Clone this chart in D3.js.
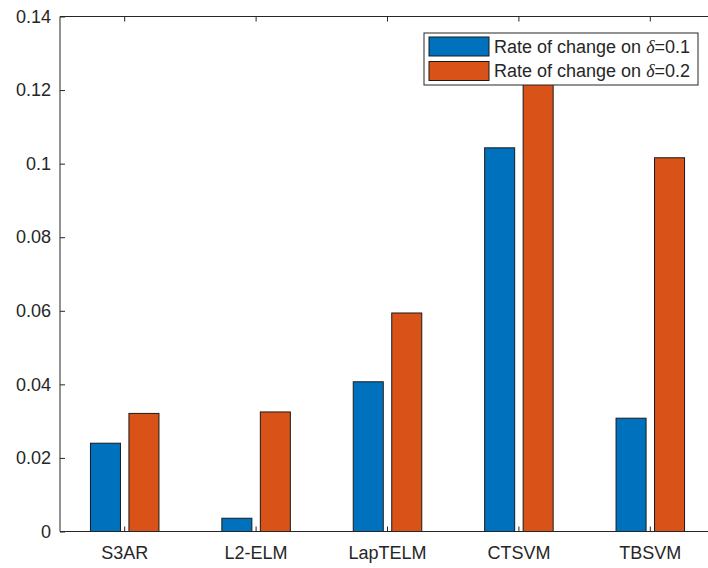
<!DOCTYPE html>
<html>
<head>
<meta charset="utf-8">
<script src="https://cdn.jsdelivr.net/npm/d3@7"></script>
<style>
  body { margin: 0; background: #fff; }
  text { font-family: "Liberation Sans", Arial, sans-serif; fill: #262626; }
</style>
</head>
<body>
<div id="chart"></div>
<script>
// data
const categories = ["S3AR", "L2-ELM", "LapTELM", "CTSVM", "TBSVM"];
const seriesNames = ["Rate of change on \u03b4=0.1", "Rate of change on \u03b4=0.2"];
const delta01 = [0.0240, 0.0036, 0.0407, 0.1043, 0.0308];
const delta02 = [0.0321, 0.0325, 0.0594, 0.1280, 0.1016];
const yTicks = [0, 0.02, 0.04, 0.06, 0.08, 0.1, 0.12, 0.14];
const colors = ["#0072BD", "#D95319"];

class GroupedBar {
    constructor(_config) {
        this.config = {
            parentElement: _config.parentElement,
            containerWidth: 708,
            containerHeight: 568,
            left: 60,
            top: 16.5,
            bottom: 531.5,
            right: 716, // right edge of the axes sits just outside the picture
            fontSize: '18px'
        };
        this.initVis();
    }

    initVis() {
        let vis = this;
        const c = vis.config;

        vis.svg = d3.select(c.parentElement)
            .append('svg')
            .attr('width', c.containerWidth)
            .attr('height', c.containerHeight);

        const x = d3.scaleBand()
            .domain(categories)
            .range([59, c.right]);

        const xSub = d3.scaleBand()
            .domain([0, 1])
            .range([-34.25, 34.25])
            .paddingInner(0.22);

        const y = d3.scaleLinear()
            .domain([0, 0.14])
            .range([c.bottom, c.top]);

        const rows = categories.map((name, i) => ({name, values: [delta01[i], delta02[i]]}));

        // bars
        const groups = vis.svg.selectAll('.group')
            .data(rows)
            .enter()
            .append('g')
            .attr('class', 'group')
            .attr('transform', d => `translate(${x(d.name) + x.bandwidth() / 2},0)`);

        groups.selectAll('rect')
            .data(d => d.values.map((v, k) => ({v, k})))
            .enter()
            .append('rect')
            .attr('x', d => xSub(d.k))
            .attr('y', d => y(d.v))
            .attr('width', xSub.bandwidth())
            .attr('height', d => y(0) - y(d.v))
            .attr('fill', d => colors[d.k])
            .attr('stroke', '#1a1a1a')
            .attr('stroke-width', 1);

        // axes (ticks point inward, like MATLAB)
        const yAxis = vis.svg.append('g')
            .attr('transform', `translate(${c.left},0)`)
            .call(d3.axisLeft(y).tickValues(yTicks).tickFormat(d3.format('~g'))
                .tickSize(-5).tickPadding(9));

        const xAxis = vis.svg.append('g')
            .attr('transform', `translate(0,${c.bottom})`)
            .call(d3.axisBottom(x).tickSize(-5).tickPadding(15));

        const xTop = vis.svg.append('g')
            .attr('transform', `translate(0,${c.top})`)
            .call(d3.axisTop(x).tickSize(-5).tickFormat(''));

        [yAxis, xAxis, xTop].forEach(a => {
            a.select('.domain').remove();
            a.selectAll('.tick line').attr('stroke', '#262626');
            a.selectAll('.tick text')
                .style('font-size', c.fontSize)
                .attr('fill', '#262626');
        });

        // box lines
        [[c.left, c.top, c.right, c.top],
         [c.left, c.bottom, c.right, c.bottom],
         [c.left, c.top, c.left, c.bottom]].forEach(p => {
            vis.svg.append('line')
                .attr('x1', p[0]).attr('y1', p[1])
                .attr('x2', p[2]).attr('y2', p[3])
                .attr('stroke', '#262626');
        });

        // legend
        const legend = vis.svg.append('g').attr('transform', 'translate(424,33)');
        legend.append('rect')
            .attr('width', 274).attr('height', 52)
            .attr('fill', '#fff').attr('stroke', '#262626').attr('stroke-width', 1);

        const items = legend.selectAll('.item')
            .data(seriesNames)
            .enter()
            .append('g')
            .attr('class', 'item')
            .attr('transform', (d, i) => `translate(5,${4 + i * 24.5})`);

        items.append('rect')
            .attr('width', 60).attr('height', 19)
            .attr('fill', (d, i) => colors[i])
            .attr('stroke', '#1a1a1a');

        const label = items.append('text')
            .attr('x', 65).attr('y', 9.5).attr('dy', '0.36em')
            .style('font-size', c.fontSize);
        label.append('tspan').text(d => d.split('\u03b4')[0]);
        label.append('tspan')
            .style('font-family', '"Liberation Serif", "Times New Roman", serif')
            .style('font-style', 'italic')
            .text('\u03b4');
        label.append('tspan').text(d => d.split('\u03b4')[1]);
    }
}

new GroupedBar({parentElement: '#chart'});
</script>
</body>
</html>
